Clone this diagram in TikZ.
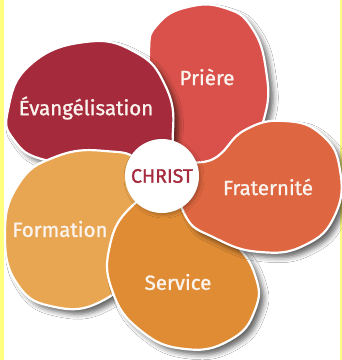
\documentclass[tikz,border=0pt]{standalone}
\usepackage{fontspec}
\setmainfont{Fira Sans}
\newfontfamily\lblfont{Fira Sans}[FakeBold=1.2]
\usetikzlibrary{shadows.blur}
\definecolor{cEvang}{HTML}{A52A3B}
\definecolor{cPriere}{HTML}{D9514A}
\definecolor{cFrat}{HTML}{DE6640}
\definecolor{cServ}{HTML}{E08C35}
\definecolor{cForm}{HTML}{E9A652}
\definecolor{cChrist}{HTML}{A52A3D}
\definecolor{cYellow}{HTML}{FFFF80}
\definecolor{cLabel}{HTML}{FBF4EE}
\tikzset{
  petal/.style={draw=white, line width=2.2pt, fill=#1,
    blur shadow={shadow xshift=5pt, shadow yshift=-5pt, shadow blur radius=5pt, shadow opacity=60}},
  lbl/.style={text=cLabel, font=\lblfont\fontsize{20.5}{24}\selectfont, inner sep=0pt},
}
\begin{document}
\begin{tikzpicture}[x=1pt,y=-1pt]
\useasboundingbox (0,0) rectangle (342,360);
\fill[white] (0,0) rectangle (342,360);
\fill[cYellow] (0,0) rectangle (4,360);
\fill[cYellow] (340,0) rectangle (342,360);
% petals, back to front
\path[petal=cPriere] plot[smooth cycle, tension=0.8] coordinates {
  (149,52) (158,24) (188,7) (225,8) (252,28) (266,70) (265,115) (245,150) (205,172) (170,160) (155,110)};
\path[petal=cEvang] plot[smooth cycle, tension=0.8] coordinates {
  (8,110) (30,65) (85,42) (135,52) (165,85) (173,130) (160,160) (100,163) (45,160) (14,140)};
\path[petal=cForm] plot[smooth cycle, tension=0.8] coordinates {
  (5,235) (18,185) (55,157) (105,151) (140,165) (145,215) (130,270) (100,302) (55,307) (18,285)};
\path[petal=cServ] plot[smooth cycle, tension=0.8] coordinates {
  (130,208) (110,245) (112,290) (140,330) (185,349) (230,340) (255,310) (255,275) (232,240) (195,205) (160,195)};
\path[petal=cFrat] plot[smooth cycle, tension=0.8] coordinates {
  (180,170) (215,158) (245,130) (285,121) (322,135) (340,170) (335,215) (305,245) (260,252) (215,238) (185,215)};
% centre
\node (christ) [circle, fill=white, minimum size=74pt, inner sep=0pt,
  blur shadow={shadow xshift=2pt, shadow yshift=-2pt, shadow blur radius=3pt, shadow opacity=25},
  text=cChrist, font=\lblfont\fontsize{19.5}{22}\selectfont] at (162,176) {CHRIST};
% labels
\node (evang) [lbl] at (86,108) {Évangélisation};
\node (priere) [lbl] at (207,77) {Prière};
\node (frat) [lbl] at (268,187) {Fraternité};
\node (form) [lbl] at (60,229) {Formation};
\node (serv) [lbl] at (178,282) {Service};
\end{tikzpicture}
\end{document}
